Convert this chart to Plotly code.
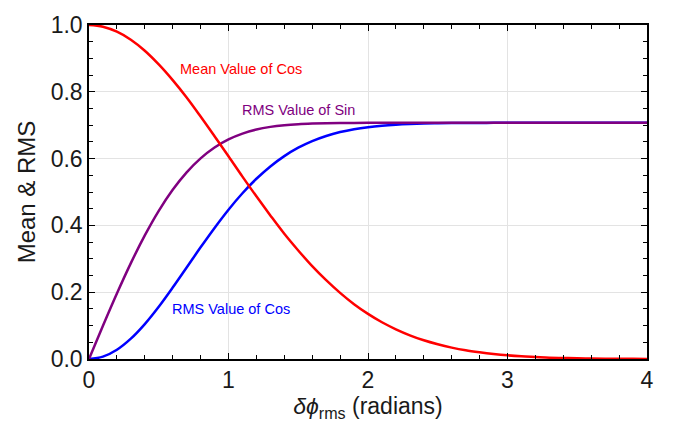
import plotly.graph_objects as go

x_vals = [round(0.1 * i, 1) for i in range(41)]

mean_cos = [1.000, 0.995, 0.980, 0.956, 0.923, 0.882, 0.835, 0.783, 0.726, 0.667,
            0.607, 0.546, 0.487, 0.430, 0.375, 0.325, 0.278, 0.236, 0.198, 0.164,
            0.135, 0.110, 0.089, 0.071, 0.056, 0.044, 0.034, 0.026, 0.020, 0.015,
            0.011, 0.008, 0.006, 0.004, 0.003, 0.002, 0.0015, 0.001, 0.0007, 0.0005,
            0.0003]

rms_sin = [0.000, 0.0995, 0.196, 0.287, 0.370, 0.4436, 0.5066, 0.5589, 0.6008, 0.6333,
           0.6575, 0.6749, 0.6870, 0.6950, 0.7001, 0.7032, 0.7050, 0.7060, 0.7066, 0.7069,
           0.7070, 0.7071, 0.7071, 0.7071, 0.7071, 0.7071, 0.7071, 0.7071, 0.7071, 0.7071,
           0.7071, 0.7071, 0.7071, 0.7071, 0.7071, 0.7071, 0.7071, 0.7071, 0.7071, 0.7071,
           0.7071]

rms_cos = [0.000, 0.0070, 0.0277, 0.0609, 0.1046, 0.1564, 0.2138, 0.2739, 0.3343, 0.3925,
           0.4470, 0.4963, 0.5396, 0.5766, 0.6075, 0.6326, 0.6524, 0.6678, 0.6794, 0.6880,
           0.6942, 0.6985, 0.7015, 0.7035, 0.7049, 0.7057, 0.7063, 0.7066, 0.7068, 0.7070,
           0.7071, 0.7071, 0.7071, 0.7071, 0.7071, 0.7071, 0.7071, 0.7071, 0.7071, 0.7071,
           0.7071]

labels = ["Mean Value of Cos", "RMS Value of Sin", "RMS Value of Cos"]
label_x = [1.09, 1.50, 1.02]
label_y = [0.867, 0.746, 0.150]
colors = ["#ff0000", "#800080", "#0000ff"]

FONT = "Liberation Sans, Arial"
TXT = "#1a1a1a"

fig = go.Figure()
fig.add_trace(go.Scatter(x=x_vals, y=rms_cos, mode="lines", line=dict(color=colors[2], width=2.5, shape="spline"), name=labels[2]))
fig.add_trace(go.Scatter(x=x_vals, y=rms_sin, mode="lines", line=dict(color=colors[1], width=2.5, shape="spline"), name=labels[1]))
fig.add_trace(go.Scatter(x=x_vals, y=mean_cos, mode="lines", line=dict(color=colors[0], width=2.5, shape="spline"), name=labels[0]))

for t, xx, yy, c in zip(labels, label_x, label_y, colors):
    fig.add_annotation(x=xx, y=yy, text=t, showarrow=False,
                       font=dict(family=FONT, size=14.5, color=c))

axis_common = dict(
    showline=True, linecolor="black", linewidth=1.5, mirror="allticks",
    ticks="inside", ticklen=6, tickwidth=1.2, tickcolor="black",
    showgrid=True, gridcolor="#e3e3e3", gridwidth=1, zeroline=False,
    tickfont=dict(family=FONT, size=23, color=TXT),
)

fig.update_xaxes(range=[0, 4], dtick=1, tick0=0,
                 minor=dict(dtick=0.2, ticks="inside", ticklen=4, tickcolor="black", showgrid=False),
                 title=dict(text="<i>δϕ</i><sub>rms</sub> (radians)",
                            font=dict(family=FONT, size=23, color=TXT), standoff=4),
                 **axis_common)
fig.update_yaxes(range=[0, 1], dtick=0.2, tick0=0, tickformat=".1f",
                 minor=dict(dtick=0.05, ticks="inside", ticklen=4, tickcolor="black", showgrid=False),
                 title=dict(text="Mean &amp; RMS",
                            font=dict(family=FONT, size=24, color=TXT), standoff=8),
                 **axis_common)

fig.update_layout(width=680, height=428, margin=dict(l=89, r=33, t=13, b=69),
                  paper_bgcolor="white", plot_bgcolor="white", showlegend=False)

fig.write_html("out.html")
